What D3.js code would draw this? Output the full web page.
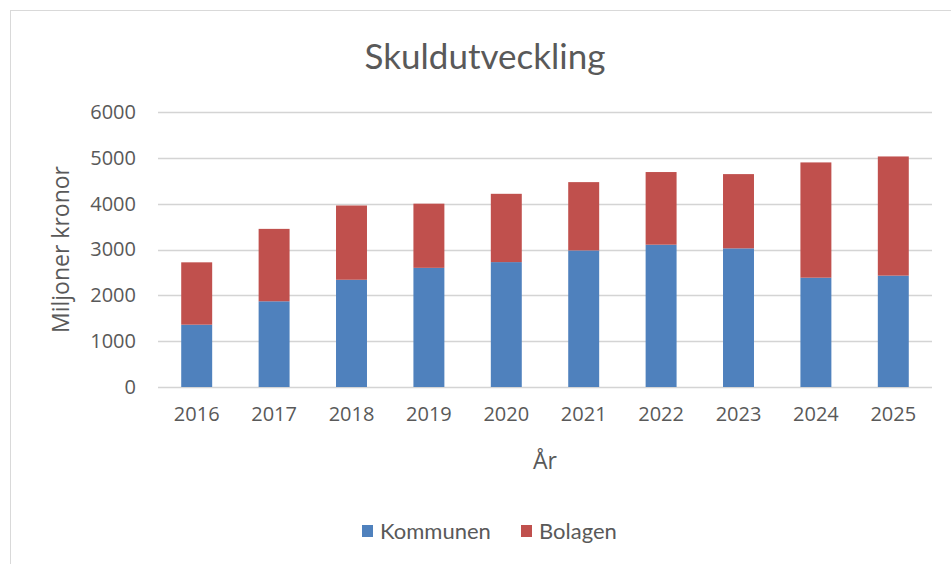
<!DOCTYPE html>
<html>
<head>
<meta charset="utf-8">
<script src="https://cdn.jsdelivr.net/npm/d3@7"></script>
<style>
  body { margin: 0; background: #fff; }
  svg { display: block; }
</style>
</head>
<body>
<div id="chart"></div>
<script>
// data (miljoner kronor)
const years = ["2016", "2017", "2018", "2019", "2020", "2021", "2022", "2023", "2024", "2025"];
const kommunen = [1360, 1870, 2340, 2600, 2725, 2980, 3105, 3025, 2385, 2430];
const bolagen = [1360, 1580, 1620, 1400, 1490, 1490, 1585, 1620, 2515, 2600];
const yTicks = [0, 1000, 2000, 3000, 4000, 5000, 6000];
const seriesNames = ["Kommunen", "Bolagen"];
const colors = ["#4f81bd", "#c0504d"];

const W = 951, H = 564;
const margin = {top: 112, right: 19, bottom: 177, left: 158};
const width = W - margin.left - margin.right;
const height = H - margin.top - margin.bottom;

const svg = d3.select("#chart").append("svg")
    .attr("width", W)
    .attr("height", H);

// chart frame
svg.append("rect")
    .attr("x", 10.5).attr("y", 10.5)
    .attr("width", W + 20).attr("height", H + 20)
    .attr("fill", "#fff")
    .attr("stroke", "#d9d9d9");

const g = svg.append("g")
    .attr("transform", `translate(${margin.left},${margin.top})`);

const x = d3.scaleBand()
    .domain(years)
    .range([0, width])
    .paddingInner(0.6)
    .paddingOuter(0.3);

const y = d3.scaleLinear()
    .domain([0, 6000])
    .range([height, 0]);

// gridlines
g.selectAll(".grid")
    .data(yTicks)
    .join("line")
    .attr("x1", 0)
    .attr("x2", width)
    .attr("y1", d => Math.round(y(d)) + 0.5)
    .attr("y2", d => Math.round(y(d)) + 0.5)
    .attr("stroke", "#d4d4d4")
    .attr("stroke-width", 1.5);

// stacked bars
const rows = years.map((yr, i) => ({year: yr, Kommunen: kommunen[i], Bolagen: bolagen[i]}));
const stack = d3.stack().keys(seriesNames)(rows);

g.selectAll(".series")
    .data(stack)
    .join("g")
    .attr("fill", (d, i) => colors[i])
    .selectAll("rect")
    .data(d => d)
    .join("rect")
    .attr("x", d => x(d.data.year))
    .attr("width", x.bandwidth())
    .attr("y", d => y(d[1]))
    .attr("height", d => y(d[0]) - y(d[1]));

// axes
const yAxis = d3.axisLeft(y).tickValues(yTicks).tickFormat(d3.format("d")).tickSize(0).tickPadding(22);
g.append("g").call(yAxis)
    .call(a => a.select(".domain").remove())
    .selectAll("text")
    .attr("font-family", "'Open Sans', sans-serif")
    .attr("font-size", 20)
    .attr("fill", "#595959");

const xAxis = d3.axisBottom(x).tickSize(0).tickPadding(20);
g.append("g")
    .attr("transform", `translate(0,${height})`)
    .call(xAxis)
    .call(a => a.select(".domain").remove())
    .selectAll("text")
    .attr("font-family", "'Open Sans', sans-serif")
    .attr("font-size", 20)
    .attr("fill", "#595959");

// titles
svg.append("text")
    .attr("x", 485).attr("y", 69)
    .attr("text-anchor", "middle")
    .attr("font-family", "Lato, sans-serif")
    .attr("font-size", 35)
    .attr("fill", "#595959")
    .text("Skuldutveckling");

svg.append("text")
    .attr("x", margin.left + width / 2).attr("y", 469)
    .attr("text-anchor", "middle")
    .attr("font-family", "'Open Sans', sans-serif")
    .attr("font-size", 23)
    .attr("fill", "#595959")
    .text("År");

svg.append("text")
    .attr("transform", `translate(69,${margin.top + height / 2}) rotate(-90)`)
    .attr("text-anchor", "middle")
    .attr("font-family", "'Open Sans', sans-serif")
    .attr("font-size", 23)
    .attr("fill", "#595959")
    .text("Miljoner kronor");

// legend
const legendX = [362, 521];
const legend = svg.selectAll(".legend")
    .data(seriesNames)
    .join("g")
    .attr("transform", (d, i) => `translate(${legendX[i]},531)`);

legend.append("rect")
    .attr("x", 0).attr("y", -6)
    .attr("width", 11).attr("height", 12)
    .attr("fill", (d, i) => colors[i]);

legend.append("text")
    .attr("x", 18).attr("y", 8)
    .attr("font-family", "Lato, sans-serif")
    .attr("font-size", 22)
    .attr("fill", "#595959")
    .text(d => d);
</script>
</body>
</html>
